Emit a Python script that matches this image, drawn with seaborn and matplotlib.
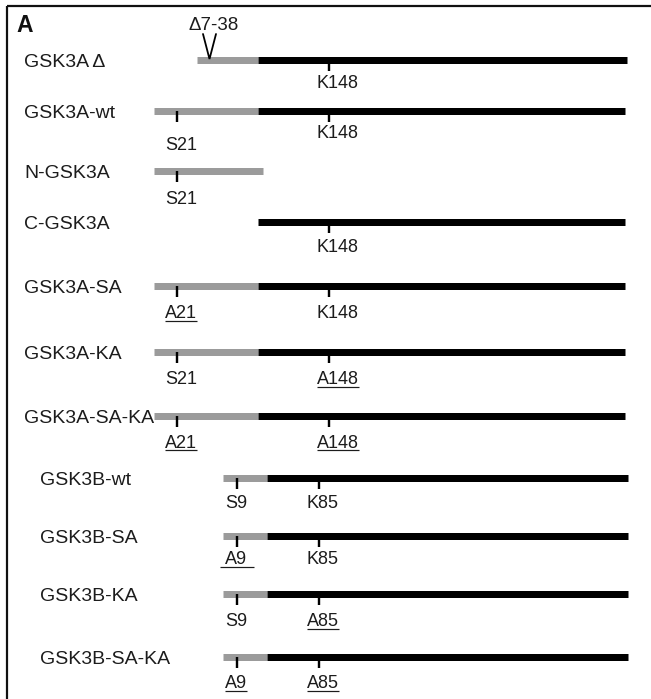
import numpy as np
import pandas as pd
import matplotlib
matplotlib.use("Agg")
import matplotlib.pyplot as plt
import seaborn as sns

sns.set_theme(style="white")
plt.rcParams["font.family"] = ["Liberation Sans", "DejaVu Sans"]

# construct layout (schematic units = pixels)
names = ["GSK3A \u0394", "GSK3A-wt", "N-GSK3A", "C-GSK3A", "GSK3A-SA", "GSK3A-KA",
         "GSK3A-SA-KA", "GSK3B-wt", "GSK3B-SA", "GSK3B-KA", "GSK3B-SA-KA"]
row_y = [60, 111, 171, 222, 286, 352, 416, 478, 536, 594, 657]
name_x = [24, 24, 24, 24, 24, 24, 24, 40, 40, 40, 40]
gray_start = [197, 154, 154, np.nan, 154, 154, 154, 223, 223, 223, 223]
gray_end = [258, 258, 263, np.nan, 258, 258, 258, 267, 267, 267, 267]
black_start = [258, 258, np.nan, 258, 258, 258, 258, 267, 267, 267, 267]
black_end = [627, 625, np.nan, 625, 625, 625, 625, 628, 628, 628, 628]

# N-terminal phospho site (S21 / S9) and C-terminal lysine (K148 / K85)
n_site_x = [np.nan, 177, 177, np.nan, 177, 177, 177, 237, 237, 237, 237]
n_site_lab = [None, "S21", "S21", None, "A21", "S21", "A21", "S9", "A9", "S9", "A9"]
n_lab_y = [np.nan, 144, 197, np.nan, 312, 378, 441, 502, 558, 620, 682]
c_site_x = [329, 329, np.nan, 329, 329, 329, 329, 319, 319, 319, 319]
c_site_lab = ["K148", "K148", None, "K148", "K148", "A148", "A148", "K85", "K85", "A85", "A85"]
c_lab_y = [82, 132, np.nan, 245, 312, 378, 441, 502, 558, 620, 682]

df = pd.DataFrame({
    "name": names, "y": row_y, "name_x": name_x,
    "g0": gray_start, "g1": gray_end, "b0": black_start, "b1": black_end,
    "nx": n_site_x, "nlab": n_site_lab, "ny": n_lab_y,
    "cx": c_site_x, "clab": c_site_lab, "cy": c_lab_y,
})

W, H = 651, 699
fig = plt.figure(figsize=(W / 100, H / 100), dpi=100)
ax = fig.add_axes([0, 0, 1, 1])
ax.set_xlim(0, W)
ax.set_ylim(H, 0)
ax.axis("off")

px = 72 / 100  # points per pixel
gray = "#9b9b9b"
txt = "#1c1c1c"

# frame (top and left edges visible)
ax.plot([7, W], [5.5, 5.5], color="#111111", lw=2.2 * px, solid_capstyle="butt")
ax.plot([7, 7], [5.5, H], color="#111111", lw=2.2 * px, solid_capstyle="butt")
ax.text(16, 32, "A", fontsize=16.5, fontweight="bold", color="#111111", ha="left", va="baseline")

ax.hlines(df["y"], df["g0"], df["g1"], color=gray, lw=7 * px, capstyle="butt")
ax.hlines(df["y"], df["b0"], df["b1"], color="black", lw=7 * px, capstyle="butt")

name_fs = 14
site_fs = 13
cap_half = 0.36 * site_fs / px
underlined = []

for _, r in df.iterrows():
    ax.text(r["name_x"], r["y"] + 0.36 * name_fs / px, r["name"], fontsize=name_fs,
            color=txt, ha="left", va="baseline")
    for sx, lab, ly in [(r["nx"], r["nlab"], r["ny"]), (r["cx"], r["clab"], r["cy"])]:
        if lab is None or np.isnan(sx):
            continue
        ax.plot([sx, sx], [r["y"], r["y"] + 11], color="black", lw=2.4 * px, solid_capstyle="butt")
        t = ax.text(sx - 12, ly + cap_half, lab, fontsize=site_fs, color=txt,
                    ha="left", va="baseline")
        if lab.startswith("A"):
            ext = (5, 7) if (lab == "A9" and r["name"] == "GSK3B-SA") else (0, 0)
            underlined.append((t, ly + cap_half + 2.5, ext))

# deletion marker on the truncated GSK3A
ax.plot([203, 209.5, 216], [34, 59, 34], color="black", lw=1.8 * px, solid_joinstyle="miter")
ax.text(213.5, 23 + 0.36 * 13.5 / px, "\u03947-38", fontsize=13.5, color=txt, ha="center", va="baseline")

fig.canvas.draw()
inv = ax.transData.inverted()
for t, uy, ext in underlined:
    bb = t.get_window_extent()
    x0 = inv.transform((bb.x0, bb.y0))[0] - ext[0]
    x1 = inv.transform((bb.x1, bb.y0))[0] + ext[1]
    ax.plot([x0, x1], [uy, uy], color=txt, lw=1.2 * px, solid_capstyle="butt")

fig.savefig("out.png", dpi=100)
